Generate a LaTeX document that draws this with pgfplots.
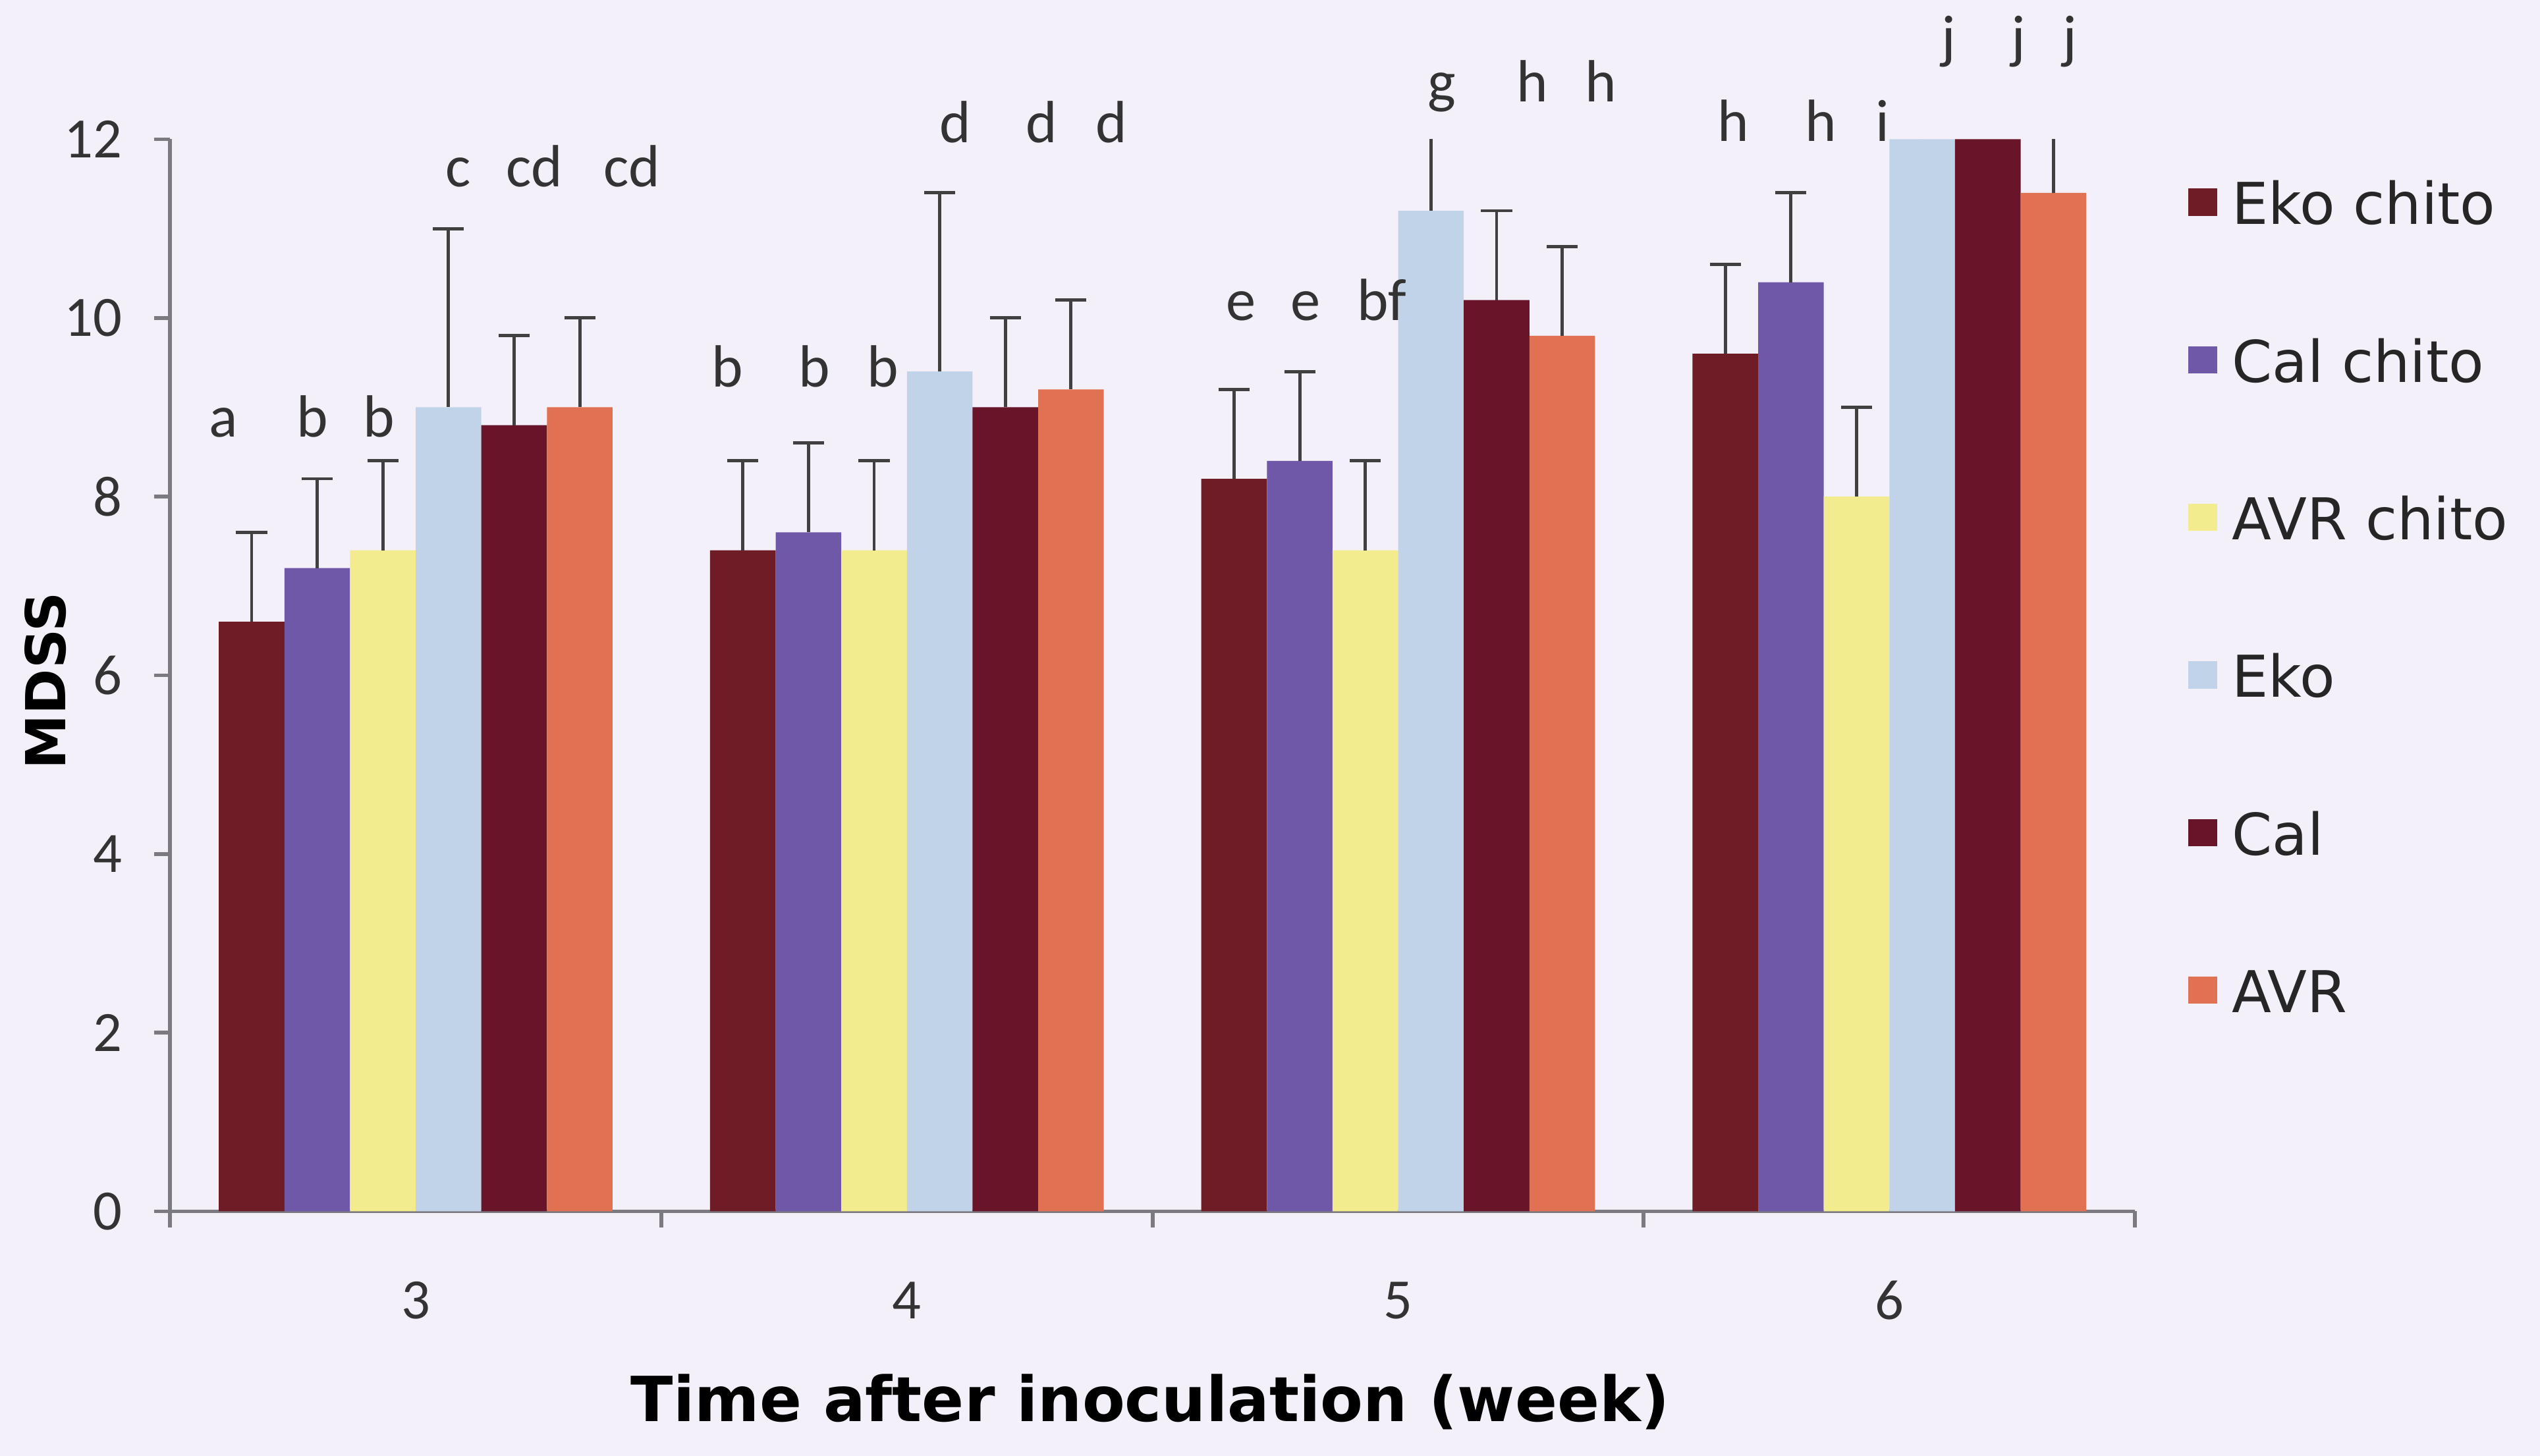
\documentclass[border=0pt]{standalone}
\usepackage{fontspec}
\setmainfont{Carlito}
\newfontfamily\dejavu{DejaVu Sans}
\usepackage{pgfplots}
\usepackage{pgfplotstable}
\pgfplotsset{compat=1.18}
\definecolor{bgcol}{HTML}{F4F0FA}
\definecolor{cA}{HTML}{6E1C26}
\definecolor{cB}{HTML}{7058A8}
\definecolor{cC}{HTML}{F2EC8E}
\definecolor{cD}{HTML}{C0D3E8}
\definecolor{cE}{HTML}{68152A}
\definecolor{cF}{HTML}{E07152}
\definecolor{errc}{HTML}{404040}
\definecolor{txt}{HTML}{333333}
\definecolor{axc}{HTML}{7A7A80}

\pgfplotstableread{
x y e
0 6.6 1.0
1 7.4 1.0
2 8.2 1.0
3 9.6 1.0
}\ekochito
\pgfplotstableread{
x y e
0 7.2 1.0
1 7.6 1.0
2 8.4 1.0
3 10.4 1.0
}\calchito
\pgfplotstableread{
x y e
0 7.4 1.0
1 7.4 1.0
2 7.4 1.0
3 8.0 1.0
}\avrchito
\pgfplotstableread{
x y e
0 9.0 2.0
1 9.4 2.0
2 11.2 1.0
3 12.0 1.0
}\eko
\pgfplotstableread{
x y e
0 8.8 1.0
1 9.0 1.0
2 10.2 1.0
3 12.0 1.0
}\cal
\pgfplotstableread{
x y e
0 9.0 1.0
1 9.2 1.0
2 9.8 1.0
3 11.4 1.0
}\avr

\begin{document}
\begin{tikzpicture}
\fill[bgcol] (-26.25pt,-37.75pt) rectangle (365.75pt,187pt);
\useasboundingbox (-26.25pt,-37.75pt) rectangle (365.75pt,187pt);
\begin{axis}[
  scale only axis,
  width=303.25pt, height=165.5pt,
  xmin=-0.5, xmax=3.5, ymin=0, ymax=12,
  enlargelimits=false,
  clip mode=individual,
  axis lines*=left,
  axis line style={draw=axc, line width=0.6pt},
  tick align=outside,
  major tick length=2.5pt,
  tick style={draw=axc, line width=0.6pt},
  ytick={0,2,4,6,8,10,12},
  xtick={0,1,2,3},
  xticklabels={3,4,5,6},
  xtick style={draw=none},
  extra x ticks={-0.5,0.5,1.5,2.5,3.5},
  extra x tick labels={},
  extra x tick style={xtick style={draw=axc, line width=0.6pt}, major tick length=2.5pt},
  /pgf/number format/assume math mode=true,
  ticklabel style={font=\fontsize{8.8}{10}\selectfont, text=txt},
  xticklabel style={anchor=center, yshift=-11.25pt},
  yticklabel style={anchor=east, inner sep=0pt, xshift=-4.75pt},
  xlabel={Time after inoculation (week)},
  xlabel style={font=\dejavu\bfseries\fontsize{9.6}{11}\selectfont, at={(axis description cs:0.4988,-0.178)}, anchor=center},
  ylabel={MDSS},
  ylabel style={font=\dejavu\bfseries\fontsize{8.5}{10}\selectfont, at={(axis description cs:-0.0635,0.495)}, anchor=center},
  legend style={at={(axis description cs:1.0264,0.961)}, anchor=north west, draw=none, fill=none, inner sep=0pt,
    font=\dejavu\fontsize{8.9}{10}\selectfont, text=black!85,
    nodes={inner sep=0pt, text height=6.5pt, text depth=0pt},
    row sep=17.83pt},
  legend cell align=left,
  legend image code/.code={\fill[#1] (0pt,-1.9pt) rectangle (4.5pt,2.3pt); \path (6.75pt,0pt);},
  error bars/error bar style={draw=errc, line width=0.5pt},
  error bars/error mark options={rotate=90, mark size=2.4pt, draw=errc, line width=0.5pt},
]
\addplot[ybar, bar width=0.1336, bar shift=0, fill=cA, draw=none,
  error bars/.cd, y dir=plus, y explicit] table[x expr=\thisrow{x}-0.334, y=y, y error=e] {\ekochito};
\addlegendentry{Eko chito}
\addplot[ybar, bar width=0.1336, bar shift=0, fill=cB, draw=none,
  error bars/.cd, y dir=plus, y explicit] table[x expr=\thisrow{x}-0.2004, y=y, y error=e] {\calchito};
\addlegendentry{Cal chito}
\addplot[ybar, bar width=0.1336, bar shift=0, fill=cC, draw=none,
  error bars/.cd, y dir=plus, y explicit] table[x expr=\thisrow{x}-0.0668, y=y, y error=e] {\avrchito};
\addlegendentry{AVR chito}
\addplot[ybar, bar width=0.1336, bar shift=0, fill=cD, draw=none,
  error bars/.cd, y dir=plus, y explicit] table[x expr=\thisrow{x}+0.0668, y=y, y error=e] {\eko};
\addlegendentry{Eko}
\addplot[ybar, bar width=0.1336, bar shift=0, fill=cE, draw=none,
  error bars/.cd, y dir=plus, y explicit] table[x expr=\thisrow{x}+0.2004, y=y, y error=e] {\cal};
\addlegendentry{Cal}
\addplot[ybar, bar width=0.1336, bar shift=0, fill=cF, draw=none,
  error bars/.cd, y dir=plus, y explicit] table[x expr=\thisrow{x}+0.334, y=y, y error=e] {\avr};
\addlegendentry{AVR}

\tikzset{lt/.style={font=\fontsize{9.2}{10}\selectfont, text=txt, anchor=base, inner sep=0pt}}
% week 3
\node[lt] at (axis cs:-0.391,8.67) {a};
\node[lt] at (axis cs:-0.210,8.67) {b};
\node[lt] at (axis cs:-0.075,8.67) {b};
\node[lt] at (axis cs:0.087,11.47) {c};
\node[lt] at (axis cs:0.242,11.47) {cd};
\node[lt] at (axis cs:0.440,11.47) {cd};
% week 4
\node[lt] at (axis cs:0.634,9.23) {b};
\node[lt] at (axis cs:0.812,9.23) {b};
\node[lt] at (axis cs:0.951,9.23) {b};
\node[lt] at (axis cs:1.099,11.96) {d};
\node[lt] at (axis cs:1.274,11.96) {d};
\node[lt] at (axis cs:1.416,11.96) {d};
% week 5
\node[lt] at (axis cs:1.680,9.97) {e};
\node[lt] at (axis cs:1.812,9.97) {e};
\node[lt] at (axis cs:1.967,9.97) {bf};
\node[lt] at (axis cs:2.089,12.42) {g};
\node[lt] at (axis cs:2.273,12.42) {h};
\node[lt] at (axis cs:2.412,12.42) {h};
% week 6
\node[lt] at (axis cs:2.682,11.98) {h};
\node[lt] at (axis cs:2.860,11.98) {h};
\node[lt] at (axis cs:2.986,11.98) {i};
\node[lt] at (axis cs:3.121,12.92) {j};
\node[lt] at (axis cs:3.263,12.92) {j};
\node[lt] at (axis cs:3.368,12.92) {j};
\end{axis}
\end{tikzpicture}
\end{document}
